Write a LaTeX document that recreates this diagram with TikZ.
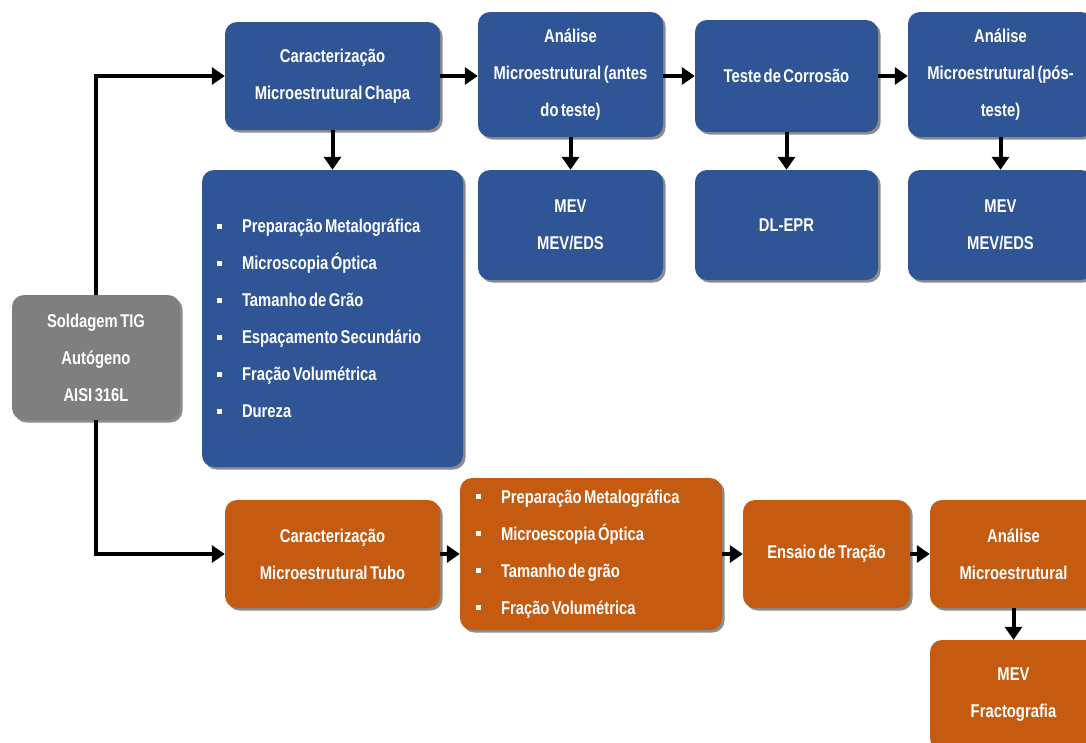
\documentclass[tikz,border=0pt]{standalone}
\usepackage{fontspec}
\setmainfont{Liberation Sans}[FakeStretch=0.8,WordSpace=0.6]
\usetikzlibrary{arrows.meta,shadows}
\definecolor{bblue}{HTML}{2F5597}
\definecolor{borange}{HTML}{C55A11}
\definecolor{bgray}{HTML}{7F7F7F}
\newcommand{\blt}{\makebox[25pt][l]{\rule[4pt]{4.5pt}{5pt}}}
\begin{document}
\begin{tikzpicture}[x=1pt,y=-1pt,
  box/.style={rectangle, rounded corners=12pt, text=white, inner sep=0pt,
    font=\bfseries\fontsize{18.5}{37}\selectfont, align=center,
    drop shadow={shadow xshift=2.5pt, shadow yshift=-2.5pt, opacity=0.45, fill=black}},
  bluebox/.style={box, fill=bblue},
  orangebox/.style={box, fill=borange},
  graybox/.style={box, fill=bgray},
  listbox/.style={align=flush left, inner xsep=15pt, inner ysep=0pt},
  arr/.style={line width=4pt, -{Triangle[length=13pt,width=17pt]}}]
\useasboundingbox (0,0) rectangle (1086,742);
\clip (0,0) rectangle (1086,742);
\fill[white] (0,0) rectangle (1086,742);

% top (blue) row
\node[graybox, minimum width=168pt, minimum height=125pt] (gray) at (96,357.5)
  {Soldagem TIG\\Autógeno\\AISI 316L};
\node[bluebox, minimum width=215pt, minimum height=108pt] (chapa) at (332.5,76)
  {Caracterização\\Microestrutural Chapa};
\node[bluebox, listbox, text width=231pt, minimum height=297pt] (blist) at (332.5,318.5)
  {\blt Preparação Metalográfica\\
   \blt Microscopia Óptica\\
   \blt Tamanho de Grão\\
   \blt Espaçamento Secundário\\
   \blt Fração Volumétrica\\
   \blt Dureza};
\node[bluebox, minimum width=185pt, minimum height=125pt] (antes) at (570.5,74.5)
  {Análise\\Microestrutural (antes\\do teste)};
\node[bluebox, minimum width=183pt, minimum height=112pt] (corr) at (786.5,76)
  {Teste de Corrosão};
\node[bluebox, minimum width=185pt, minimum height=125pt] (pos) at (1000.5,74.5)
  {Análise\\Microestrutural (pós-\\teste)};
\node[bluebox, minimum width=185pt, minimum height=110pt] (mev1) at (570.5,225)
  {MEV\\MEV/EDS};
\node[bluebox, minimum width=183pt, minimum height=110pt] (dl) at (786.5,225)
  {DL-EPR};
\node[bluebox, minimum width=185pt, minimum height=110pt] (mev3) at (1000.5,225)
  {MEV\\MEV/EDS};

% bottom (orange) row
\node[orangebox, minimum width=215pt, minimum height=108pt] (tubo) at (332.5,554)
  {Caracterização\\Microestrutural Tubo};
\node[orangebox, listbox, inner xsep=16pt, text width=230pt, minimum height=152pt] (olist) at (591,554)
  {\blt Preparação Metalográfica\\
   \blt Microescopia Óptica\\
   \blt Tamanho de grão\\
   \blt Fração Volumétrica};
\node[orangebox, minimum width=167pt, minimum height=108pt] (ensaio) at (826.5,554)
  {Ensaio de Tração};
\node[orangebox, minimum width=167pt, minimum height=108pt] (anao) at (1013.5,554)
  {Análise\\Microestrutural};
\node[orangebox, minimum width=167pt, minimum height=110pt] (mevf) at (1013.5,695)
  {MEV\\Fractografia};

% connectors
\draw[arr] (gray.north) |- (chapa.west);
\draw[arr] (gray.south) |- (tubo.west);
\draw[arr] (chapa.south) -- (blist.north);
\draw[arr] (chapa.east) -- (antes.west |- chapa.east);
\draw[arr] (antes.east |- corr.west) -- (corr.west);
\draw[arr] (corr.east) -- (pos.west |- corr.east);
\draw[arr] (antes.south) -- (mev1.north);
\draw[arr] (corr.south) -- (dl.north);
\draw[arr] (pos.south) -- (mev3.north);
\draw[arr] (tubo.east) -- (olist.west |- tubo.east);
\draw[arr] (olist.east |- ensaio.west) -- (ensaio.west);
\draw[arr] (ensaio.east) -- (anao.west);
\draw[arr] (anao.south) -- (mevf.north);
\end{tikzpicture}
\end{document}
